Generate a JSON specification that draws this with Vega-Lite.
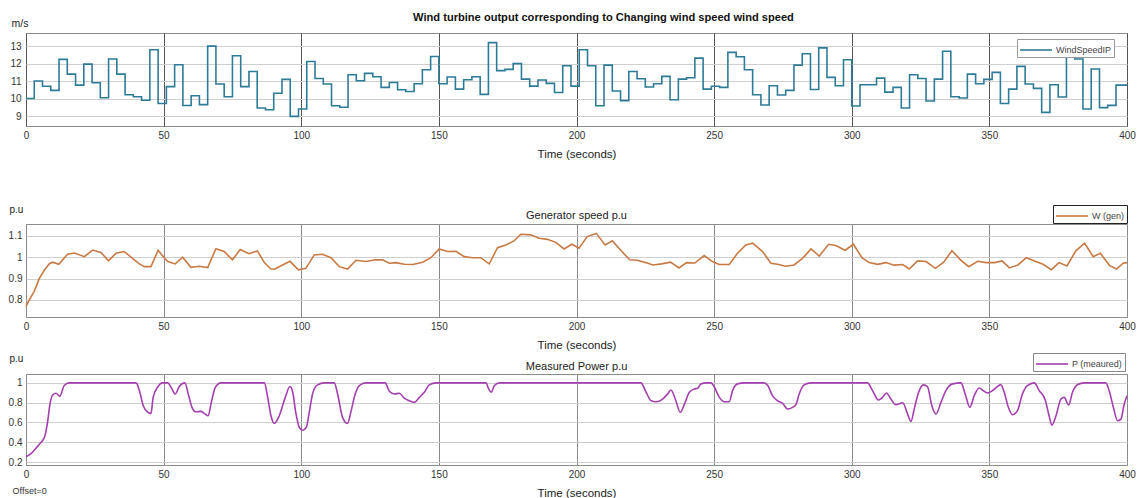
{
  "$schema": "https://vega.github.io/schema/vega-lite/v6.json",
  "padding": {"left": 7, "top": 11, "right": 2, "bottom": 2},
  "title": {"text": "Offset=0", "orient": "bottom", "anchor": "start", "fontSize": 9, "fontWeight": "normal", "color": "#333", "offset": 0, "dy": -12, "dx": 5},
  "resolve": {"scale": {"color": "independent"}, "legend": {"color": "independent"}},
  "spacing": 43,
  "vconcat": [
    {
      "width": 1101,
      "height": 93,
      "title": {"text": "Wind turbine output corresponding to Changing wind speed wind speed", "fontWeight": "bold", "fontSize": 11.1, "offset": -5, "dx": 27, "color": "#111"},
      "data": {"values": [
        {"t":0,"v":10.0},{"t":3,"v":11.0},{"t":6,"v":10.7},{"t":9,"v":10.47},{"t":12,"v":12.24},{"t":15,"v":11.4},{"t":18,"v":10.77},{"t":21,"v":11.97},{"t":24,"v":10.9},{"t":27,"v":10.05},
        {"t":30,"v":12.26},{"t":33,"v":11.4},{"t":36,"v":10.22},{"t":39,"v":10.1},{"t":42,"v":9.9},{"t":45,"v":12.79},{"t":48,"v":9.72},{"t":51,"v":10.68},{"t":54,"v":11.93},{"t":57,"v":9.6},
        {"t":60,"v":10.16},{"t":63,"v":9.65},{"t":66,"v":13.0},{"t":69,"v":10.83},{"t":72,"v":10.1},{"t":75,"v":12.45},{"t":78,"v":10.68},{"t":81,"v":11.55},{"t":84,"v":9.46},{"t":87,"v":9.36},
        {"t":90,"v":10.3},{"t":93,"v":11.1},{"t":96,"v":8.98},{"t":99,"v":9.4},{"t":102,"v":12.12},{"t":105,"v":11.15},{"t":108,"v":10.83},{"t":111,"v":9.59},{"t":114,"v":9.5},{"t":117,"v":11.36},
        {"t":120,"v":11.02},{"t":123,"v":11.44},{"t":126,"v":11.25},{"t":129,"v":10.64},{"t":132,"v":10.92},{"t":135,"v":10.5},{"t":138,"v":10.4},{"t":141,"v":10.85},{"t":144,"v":11.65},{"t":147,"v":12.41},
        {"t":150,"v":10.85},{"t":153,"v":11.23},{"t":156,"v":10.54},{"t":159,"v":11.08},{"t":162,"v":11.25},{"t":165,"v":10.24},{"t":168,"v":13.2},{"t":171,"v":11.6},{"t":174,"v":11.67},{"t":177,"v":12.0},
        {"t":180,"v":11.11},{"t":183,"v":10.71},{"t":186,"v":11.06},{"t":189,"v":10.87},{"t":192,"v":10.35},{"t":195,"v":11.88},{"t":198,"v":10.71},{"t":201,"v":12.79},{"t":204,"v":11.88},{"t":207,"v":9.59},
        {"t":210,"v":11.91},{"t":213,"v":10.43},{"t":216,"v":9.88},{"t":219,"v":11.55},{"t":222,"v":11.13},{"t":225,"v":10.66},{"t":228,"v":10.85},{"t":231,"v":11.27},{"t":234,"v":9.93},{"t":237,"v":11.11},
        {"t":240,"v":11.19},{"t":243,"v":12.31},{"t":246,"v":10.54},{"t":249,"v":10.7},{"t":252,"v":10.64},{"t":255,"v":12.64},{"t":258,"v":12.39},{"t":261,"v":11.65},{"t":264,"v":10.22},{"t":267,"v":9.63},
        {"t":270,"v":10.73},{"t":273,"v":10.2},{"t":276,"v":10.47},{"t":279,"v":11.91},{"t":282,"v":12.56},{"t":285,"v":10.52},{"t":288,"v":12.9},{"t":291,"v":11.21},{"t":294,"v":10.73},{"t":297,"v":12.22},
        {"t":300,"v":9.57},{"t":303,"v":10.79},{"t":306,"v":10.79},{"t":309,"v":11.17},{"t":312,"v":10.37},{"t":315,"v":10.64},{"t":318,"v":9.46},{"t":321,"v":11.36},{"t":324,"v":11.15},{"t":327,"v":9.86},
        {"t":330,"v":11.11},{"t":333,"v":12.71},{"t":336,"v":10.1},{"t":339,"v":10.03},{"t":342,"v":11.4},{"t":345,"v":10.85},{"t":348,"v":11.1},{"t":351,"v":11.5},{"t":354,"v":9.72},{"t":357,"v":10.54},
        {"t":360,"v":11.84},{"t":363,"v":10.83},{"t":366,"v":10.58},{"t":369,"v":9.21},{"t":372,"v":10.79},{"t":375,"v":10.09},{"t":378,"v":12.41},{"t":381,"v":12.26},{"t":384,"v":9.4},{"t":387,"v":11.69},
        {"t":390,"v":9.48},{"t":393,"v":9.61},{"t":396,"v":10.77},{"t":400,"v":10.77}
      ]},
      "mark": {"type": "line", "interpolate": "step-after", "strokeWidth": 1.6},
      "encoding": {
        "x": {"field": "t", "type": "quantitative", "scale": {"domain": [0, 400], "nice": false},
              "axis": {"values": [0,50,100,150,200,250,300,350,400], "title": "Time (seconds)", "gridColor": "#555", "labelFlush": false, "labelPadding": 4, "titleFontSize": 11.5, "titlePadding": 8}},
        "y": {"field": "v", "type": "quantitative", "scale": {"domain": [8.43, 13.75], "nice": false, "zero": false},
              "axis": {"values": [9,10,11,12,13], "title": "m/s", "titleAngle": 0, "titleX": -15, "titleY": -7, "titleAlign": "left", "titleBaseline": "alphabetic", "titleFontSize": 10.5, "labelPadding": 5}},
        "color": {"datum": "WindSpeedIP", "type": "nominal", "scale": {"range": ["#2e7b98"]},
                  "legend": {"orient": "none", "legendX": 991, "legendY": 6, "title": null}}
      }
    },
    {
      "spacing": 1,
      "resolve": {"scale": {"color": "independent"}, "legend": {"color": "independent"}},
      "vconcat": [
        {
          "width": 1101,
          "height": 93,
          "title": {"text": "Generator speed p.u", "fontSize": 11, "fontWeight": "normal", "offset": -17, "color": "#222"},
          "data": {"values": [
            {"t":0,"w":0.77},{"t":1.2,"w":0.8},{"t":3,"w":0.84},{"t":4.8,"w":0.9},{"t":6.7,"w":0.94},{"t":8.5,"w":0.97},{"t":9.7,"w":0.977},{"t":11.9,"w":0.967},{"t":15.1,"w":1.014},{"t":17.6,"w":1.02},
            {"t":21.2,"w":1.003},{"t":24.2,"w":1.034},{"t":27.2,"w":1.023},{"t":30,"w":0.983},{"t":32.7,"w":1.019},{"t":35.7,"w":1.027},{"t":38.7,"w":0.995},{"t":41.2,"w":0.969},{"t":43,"w":0.956},{"t":45.4,"w":0.956},
            {"t":48,"w":1.033},{"t":50.2,"w":0.998},{"t":51.5,"w":0.98},{"t":54.2,"w":0.969},{"t":56.9,"w":1.0},{"t":59.9,"w":0.953},{"t":63,"w":0.958},{"t":66,"w":0.952},{"t":69,"w":1.04},{"t":72,"w":1.027},
            {"t":75,"w":0.988},{"t":77.8,"w":1.036},{"t":81,"w":1.017},{"t":84.1,"w":1.03},{"t":86.6,"w":0.975},{"t":89,"w":0.945},{"t":90.2,"w":0.944},{"t":93.2,"w":0.964},{"t":95.9,"w":0.981},{"t":99,"w":0.941},
            {"t":101.7,"w":0.948},{"t":104.7,"w":1.011},{"t":107.7,"w":1.014},{"t":110.8,"w":0.998},{"t":113.8,"w":0.956},{"t":116.8,"w":0.945},{"t":119.9,"w":0.986},{"t":123.5,"w":0.98},{"t":127,"w":0.988},{"t":129.5,"w":0.988},
            {"t":132,"w":0.972},{"t":134.4,"w":0.975},{"t":137.4,"w":0.967},{"t":140.5,"w":0.966},{"t":144.1,"w":0.977},{"t":147.1,"w":0.998},{"t":150.1,"w":1.039},{"t":153.2,"w":1.027},{"t":156.2,"w":1.028},{"t":159.2,"w":1.003},
            {"t":162.2,"w":0.998},{"t":165.2,"w":0.998},{"t":168.3,"w":0.969},{"t":171.3,"w":1.045},{"t":174.3,"w":1.058},{"t":177.3,"w":1.077},{"t":179.8,"w":1.108},{"t":183.4,"w":1.105},{"t":186.4,"w":1.089},{"t":189.4,"w":1.084},
            {"t":192.5,"w":1.07},{"t":195.5,"w":1.039},{"t":198.3,"w":1.061},{"t":200.9,"w":1.042},{"t":203.9,"w":1.097},{"t":207.2,"w":1.112},{"t":210.4,"w":1.058},{"t":213,"w":1.077},{"t":216,"w":1.034},{"t":219.3,"w":0.988},
            {"t":222.1,"w":0.986},{"t":225.1,"w":0.975},{"t":227.8,"w":0.964},{"t":230.9,"w":0.969},{"t":234.2,"w":0.977},{"t":237.2,"w":0.95},{"t":240,"w":0.975},{"t":243,"w":0.973},{"t":246.4,"w":1.008},{"t":249.4,"w":0.98},
            {"t":251.8,"w":0.966},{"t":255.5,"w":0.966},{"t":258.5,"w":1.019},{"t":261.5,"w":1.058},{"t":264,"w":1.066},{"t":267.6,"w":1.027},{"t":270.6,"w":0.972},{"t":273,"w":0.967},{"t":276,"w":0.958},{"t":279.1,"w":0.964},
            {"t":282.1,"w":0.995},{"t":285.2,"w":1.039},{"t":288.2,"w":1.006},{"t":291.6,"w":1.061},{"t":294.2,"w":1.055},{"t":297.6,"w":1.033},{"t":300.6,"w":1.061},{"t":303.7,"w":0.998},{"t":306.3,"w":0.975},{"t":309.4,"w":0.967},
            {"t":312.4,"w":0.975},{"t":315.4,"w":0.963},{"t":318.5,"w":0.966},{"t":320.9,"w":0.945},{"t":323.9,"w":0.983},{"t":327,"w":0.98},{"t":330.4,"w":0.948},{"t":333.4,"w":0.977},{"t":336.4,"w":1.031},{"t":339.5,"w":0.988},
            {"t":342.5,"w":0.956},{"t":345.8,"w":0.981},{"t":348.8,"w":0.975},{"t":351.9,"w":0.975},{"t":354.6,"w":0.983},{"t":357.3,"w":0.95},{"t":360.4,"w":0.964},{"t":363.4,"w":0.998},{"t":366.4,"w":0.983},{"t":369.5,"w":0.967},
            {"t":372.5,"w":0.942},{"t":375.3,"w":0.975},{"t":378.2,"w":0.959},{"t":381.4,"w":1.03},{"t":384.6,"w":1.066},{"t":387.7,"w":1.003},{"t":390.3,"w":1.019},{"t":393.7,"w":0.961},{"t":396.2,"w":0.945},{"t":398.6,"w":0.972},
            {"t":400,"w":0.975}
          ]},
          "mark": {"type": "line", "strokeWidth": 1.6},
          "encoding": {
            "x": {"field": "t", "type": "quantitative", "scale": {"domain": [0, 400], "nice": false},
                  "axis": {"values": [0,50,100,150,200,250,300,350,400], "title": "Time (seconds)", "gridColor": "#8a8a8a", "labelFlush": false, "labelPadding": 4, "titleFontSize": 11.5, "titlePadding": 8}},
            "y": {"field": "w", "type": "quantitative", "scale": {"domain": [0.72, 1.156], "nice": false, "zero": false},
                  "axis": {"values": [0.8,0.9,1,1.1], "format": "~g", "title": "p.u", "titleAngle": 0, "titleX": -17, "titleY": -12, "titleAlign": "left", "titleBaseline": "alphabetic", "titleFontSize": 10, "labelPadding": 4}},
            "color": {"datum": "W (gen)", "type": "nominal", "scale": {"range": ["#c87a45"]},
                      "legend": {"orient": "none", "legendX": 1027, "legendY": -19, "title": null, "strokeColor": "#222"}}
          }
        },
        {
          "width": 1101,
          "height": 91,
          "title": {"text": "Measured Power p.u", "fontSize": 11, "fontWeight": "normal", "offset": -19, "color": "#222"},
          "data": {"values": [
            {"t":0,"p":0.254},{"t":1.8,"p":0.285},{"t":3.6,"p":0.34},{"t":5.4,"p":0.397},{"t":6.7,"p":0.45},{"t":7.9,"p":0.617},{"t":8.7,"p":0.786},{"t":9.7,"p":0.878},{"t":10.9,"p":0.895},{"t":12.3,"p":0.864},
            {"t":13.9,"p":0.973},{"t":15.7,"p":1.0},{"t":40,"p":1.0},{"t":41.2,"p":0.92},{"t":42.6,"p":0.77},{"t":44.2,"p":0.705},{"t":45.4,"p":0.69},{"t":46.2,"p":0.854},{"t":47.8,"p":0.956},{"t":49.6,"p":1.0},
            {"t":51.5,"p":1.0},{"t":52.7,"p":0.956},{"t":54.2,"p":0.888},{"t":55.7,"p":0.963},{"t":57.7,"p":1.0},{"t":59.1,"p":0.871},{"t":60.3,"p":0.753},{"t":61.7,"p":0.708},{"t":63.6,"p":0.712},{"t":64.8,"p":0.69},
            {"t":66.2,"p":0.668},{"t":67.2,"p":0.786},{"t":68.8,"p":0.956},{"t":70.8,"p":1.0},{"t":86.6,"p":1.0},{"t":87.8,"p":0.854},{"t":89,"p":0.668},{"t":90.2,"p":0.59},{"t":92,"p":0.668},{"t":94.2,"p":0.854},
            {"t":95.9,"p":0.963},{"t":96.9,"p":0.905},{"t":98,"p":0.702},{"t":99.3,"p":0.549},{"t":100.5,"p":0.522},{"t":101.9,"p":0.556},{"t":102.9,"p":0.702},{"t":104.1,"p":0.888},{"t":105.9,"p":0.98},{"t":108.4,"p":1.0},
            {"t":112,"p":1.0},{"t":113.2,"p":0.888},{"t":115,"p":0.651},{"t":116.8,"p":0.59},{"t":118,"p":0.702},{"t":119.6,"p":0.888},{"t":121.1,"p":0.973},{"t":123.5,"p":1.0},{"t":130.5,"p":1.0},{"t":132,"p":0.915},
            {"t":133.8,"p":0.888},{"t":135.6,"p":0.895},{"t":137.4,"p":0.847},{"t":139.2,"p":0.82},{"t":141.1,"p":0.803},{"t":142.9,"p":0.854},{"t":144.7,"p":0.905},{"t":146.5,"p":0.98},{"t":149,"p":1.0},{"t":167.1,"p":1.0},
            {"t":168.1,"p":0.939},{"t":169,"p":0.905},{"t":170.2,"p":0.973},{"t":172,"p":1.0},{"t":223.4,"p":1.0},{"t":225.3,"p":0.905},{"t":227.1,"p":0.82},{"t":228.9,"p":0.81},{"t":231.3,"p":0.837},{"t":233.1,"p":0.888},
            {"t":234.3,"p":0.929},{"t":235.9,"p":0.837},{"t":237.7,"p":0.702},{"t":239.2,"p":0.786},{"t":241,"p":0.905},{"t":242.8,"p":0.939},{"t":244,"p":0.946},{"t":245.2,"p":0.99},{"t":247.1,"p":1.0},{"t":248.9,"p":1.0},
            {"t":250.1,"p":0.956},{"t":251.9,"p":0.854},{"t":253.7,"p":0.81},{"t":255.5,"p":0.81},{"t":256.7,"p":0.922},{"t":258.5,"p":0.99},{"t":261,"p":1.0},{"t":268,"p":1.0},{"t":269.5,"p":0.973},{"t":271.2,"p":0.871},
            {"t":273,"p":0.82},{"t":274.9,"p":0.793},{"t":276.7,"p":0.736},{"t":278.5,"p":0.753},{"t":279.7,"p":0.78},{"t":280.9,"p":0.888},{"t":282.7,"p":0.98},{"t":285.2,"p":1.0},{"t":305.7,"p":1.0},{"t":307.6,"p":0.92},
            {"t":309.7,"p":0.827},{"t":311.2,"p":0.854},{"t":312.6,"p":0.898},{"t":314.2,"p":0.837},{"t":316,"p":0.78},{"t":318.5,"p":0.8},{"t":320.3,"p":0.685},{"t":321.5,"p":0.61},{"t":322.7,"p":0.736},{"t":324.3,"p":0.905},
            {"t":326,"p":0.98},{"t":327.5,"p":0.963},{"t":329.1,"p":0.77},{"t":330.6,"p":0.685},{"t":332.4,"p":0.803},{"t":334.2,"p":0.922},{"t":336.6,"p":0.99},{"t":339.7,"p":1.0},{"t":341.2,"p":0.888},{"t":342.9,"p":0.753},
            {"t":344.5,"p":0.871},{"t":346.3,"p":0.949},{"t":347.7,"p":0.922},{"t":349.3,"p":0.898},{"t":351.1,"p":0.922},{"t":352.6,"p":0.956},{"t":354.1,"p":0.983},{"t":355.4,"p":0.905},{"t":356.9,"p":0.753},{"t":358.4,"p":0.678},
            {"t":360.2,"p":0.719},{"t":362,"p":0.888},{"t":363.8,"p":0.973},{"t":366.3,"p":1.0},{"t":368.1,"p":0.922},{"t":370.3,"p":0.827},{"t":371.7,"p":0.668},{"t":372.7,"p":0.573},{"t":374.2,"p":0.668},{"t":376,"p":0.837},
            {"t":377.2,"p":0.854},{"t":378.8,"p":0.776},{"t":380.2,"p":0.905},{"t":382.1,"p":0.983},{"t":384.5,"p":1.0},{"t":392.3,"p":1.0},{"t":393.5,"p":0.922},{"t":395,"p":0.759},{"t":396.6,"p":0.617},{"t":397.8,"p":0.634},
            {"t":399,"p":0.786},{"t":400,"p":0.871}
          ]},
          "mark": {"type": "line", "interpolate": "monotone", "strokeWidth": 1.6},
          "encoding": {
            "x": {"field": "t", "type": "quantitative", "scale": {"domain": [0, 400], "nice": false},
                  "axis": {"values": [0,50,100,150,200,250,300,350,400], "title": "Time (seconds)", "gridColor": "#8a8a8a", "labelFlush": false, "labelPadding": 4, "titleFontSize": 11.5, "titlePadding": 8}},
            "y": {"field": "p", "type": "quantitative", "scale": {"domain": [0.17, 1.09], "nice": false, "zero": false},
                  "axis": {"values": [0.2,0.4,0.6,0.8,1], "format": "~g", "title": "p.u", "titleAngle": 0, "titleX": -17, "titleY": -13, "titleAlign": "left", "titleBaseline": "alphabetic", "titleFontSize": 10, "labelPadding": 4}},
            "color": {"datum": "P (meaured)", "type": "nominal", "scale": {"range": ["#a33fae"]},
                      "legend": {"orient": "none", "legendX": 1007, "legendY": -21, "title": null, "strokeColor": "#888"}}
          }
        }
      ]
    }
  ],
  "config": {
    "font": "Liberation Sans",
    "view": {"stroke": "#8c8c8c"},
    "axis": {"labelFont": "Liberation Sans", "labelFontSize": 10, "labelColor": "#333", "domain": false, "ticks": false, "gridColor": "#cfcfcf", "titleFont": "Liberation Sans", "titleFontWeight": "normal", "titleColor": "#222"},
    "legend": {"strokeColor": "#999", "fillColor": "white", "padding": 2, "symbolType": "M-1,0H3", "symbolSize": 256, "symbolStrokeWidth": 1.6, "labelOffset": 19, "labelFontSize": 9, "labelColor": "#444", "labelFont": "Liberation Sans", "rowPadding": 0},
    "title": {"font": "Liberation Sans"}
  }
}
